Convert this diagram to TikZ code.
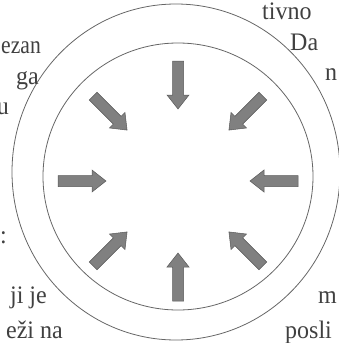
\documentclass[tikz,border=0pt]{standalone}
\usepackage{fontspec}
\usepackage{graphicx}
\setmainfont{Liberation Serif}
\newcommand{\frg}[1]{\scalebox{1}[1.05]{#1}}
\newcommand{\frgn}[1]{\scalebox{0.9}[1.05]{#1}}
\begin{document}
\begin{tikzpicture}[x=1pt,y=-1pt,
  ring/.style={draw=black!60,line width=0.8pt},
  frag/.style={inner sep=0pt,text=black!75,font=\fontsize{24}{24}\selectfont},
  arr/.style={fill=black!50,draw=black!65,line width=0.5pt,line join=miter}]
\useasboundingbox (0,0) rectangle (339,343);
\clip (0,0) rectangle (339,343);
\draw[ring] (176,172) ellipse [x radius=164, y radius=168];
\draw[ring] (178,176.5) ellipse [x radius=135, y radius=133.5];
\coordinate (c) at (178,181);
\foreach \a in {0,45,...,315}{
  \begin{scope}[shift={(c)}, rotate=\a]
    \path[arr] (72,0) -- (86,-11) -- (86,-5.5) -- (120,-5.5) -- (120,5.5) -- (86,5.5) -- (86,11) -- cycle;
  \end{scope}}
\node[frag,anchor=base east] (t1) at (41,53) {\frgn{ezan}};
\node[frag,anchor=base east] (t2) at (39,84) {\frg{ga}};
\node[frag,anchor=base east] (t3) at (9,114) {\frg{u}};
\node[frag,anchor=base west] (t4) at (0,243) {\frg{:}};
\node[frag,anchor=base east] (t5) at (47,303) {\frg{ji je}};
\node[frag,anchor=base east] (t6) at (63,338) {\frg{eži na}};
\node[frag,anchor=base west] (r1) at (262,19) {\frg{tivno}};
\node[frag,anchor=base west] (r2) at (290,50) {\frg{Da}};
\node[frag,anchor=base west] (r3) at (325,80) {\frg{n}};
\node[frag,anchor=base west] (r4) at (318,303) {\frg{m}};
\node[frag,anchor=base west] (r5) at (285,338) {\frg{posli}};
\end{tikzpicture}
\end{document}
